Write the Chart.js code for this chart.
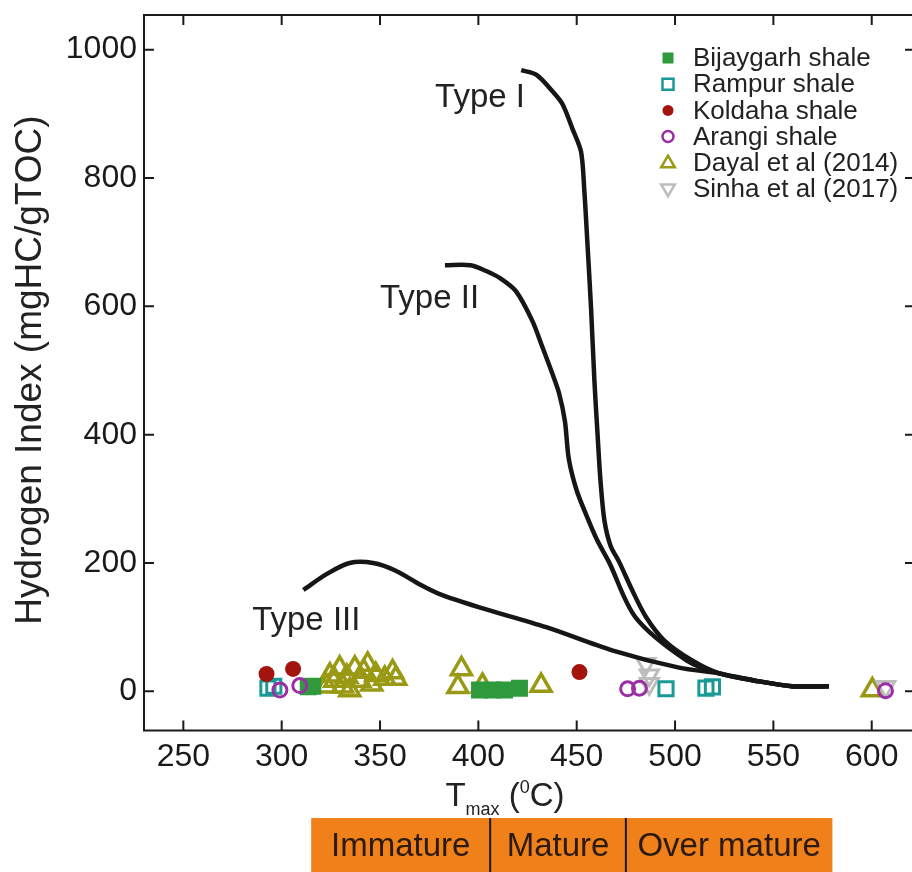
<!DOCTYPE html>
<html>
<head>
<meta charset="utf-8">
<script src="https://cdn.jsdelivr.net/npm/chart.js@4.4.1/dist/chart.umd.min.js"></script>
<style>
html, body { margin: 0; padding: 0; background: #fff; overflow: hidden; }
#wrap { position: relative; width: 930px; height: 872px; }
</style>
</head>
<body>
<div id="wrap"><canvas id="chart"></canvas></div>
<script>
const FONT = '"Liberation Sans", Arial, sans-serif';

// kerogen type curves (Tmax in degC, HI in mgHC/gTOC)
const typeIT = [421.8, 429.4, 437.7, 442.8, 447.8, 452.2, 453.9, 455.4, 457.3, 459, 460.5, 462.1, 464.1, 467.2, 471.7, 478.3, 485.4, 494.6, 508.7, 522.4, 540.2, 559.4, 578.2];
const typeIHI = [968, 961, 935, 915, 877, 841, 779, 701, 597, 484, 406, 328, 266, 227, 201, 157, 115, 79, 48, 28, 17, 8, 8];
const typeIIT = [383, 396, 404, 411, 419, 427.5, 432.5, 437.5, 441, 444, 446, 450, 455, 460.5, 466.5, 480, 506, 522.4, 540.2, 559.4, 578.2];
const typeIIHI = [664, 664, 655, 644, 624, 577, 537, 496, 465, 421, 362, 313, 274, 235, 201, 115, 48, 28, 17, 8, 8];
const typeIIIT = [311, 323, 334.5, 346.5, 358, 370, 380, 400.5, 434.5, 468, 502, 522.4, 540.2, 559.4, 578.2];
const typeIIIHI = [158, 183, 200, 200, 188, 167, 152, 131, 100, 64, 37, 28, 17, 8, 8];

// samples
const bijaygarhT = [313.5, 315.8, 400.6, 407.2, 413.3, 420.9];
const bijaygarhHI = [7, 8, 2, 2, 2, 5];
const rampurT = [293, 296, 495.4, 515.7, 519];
const rampurHI = [5, 8, 4, 5, 7];
const koldahaT = [292.3, 305.8, 451.4];
const koldahaHI = [27, 35, 30];
const arangiT = [299.1, 309.2, 475.9, 481.9, 607];
const arangiHI = [2, 9, 4, 5, 1];
const dayalT = [322.8, 324.5, 327, 329.5, 331, 333.1, 334.6, 337.2, 339.7, 341.7, 343.7, 345.8, 347.8, 352.4, 356.4, 358, 389.6, 391.4, 402.1, 431.9, 600.3];
const dayalHI = [8, 25, 17, 36, 8, 23, 2, 36, 17, 31, 42, 11, 26, 20, 30, 20, 7, 35, 9, 9, 2];
const sinhaT = [485.2, 486.9, 486.9, 607.1];
const sinhaHI = [43, 25, 12, 7];

const xTicks = [250, 300, 350, 400, 450, 500, 550, 600];
const yTicks = [0, 200, 400, 600, 800, 1000];

const typeLabels = ['Type I', 'Type II', 'Type III'];
const typeLabelT = [378, 350, 285];
const typeLabelHI = [925, 611, 110];

const zoneNames = ['Immature', 'Mature', 'Over mature'];
const zoneEdges = [315, 406, 475, 580];

function pts(xs, ys) {
    return xs.map((v, i) => ({ x: v, y: ys[i] }));
}

function curve(label, xs, ys) {
    return {
        label: label, data: pts(xs, ys), showLine: true,
        borderColor: '#161616', borderWidth: 4.5, pointRadius: 0,
        tension: 0.3, order: 0
    };
}

const samples = [
    { label: 'Bijaygarh shale', data: pts(bijaygarhT, bijaygarhHI), pointStyle: 'rect', pointRadius: 12, pointBorderWidth: 0,
      backgroundColor: '#2f9a3c', borderColor: '#2f9a3c', order: 3 },
    { label: 'Rampur shale', data: pts(rampurT, rampurHI), pointStyle: 'rect', pointRadius: 10, pointBorderWidth: 3,
      backgroundColor: 'rgba(0,0,0,0)', borderColor: '#1a9a96', order: 4 },
    { label: 'Koldaha shale', data: pts(koldahaT, koldahaHI), pointStyle: 'circle', pointRadius: 8, pointBorderWidth: 0,
      backgroundColor: '#a3140f', borderColor: '#a3140f', order: 1 },
    { label: 'Arangi shale', data: pts(arangiT, arangiHI), pointStyle: 'circle', pointRadius: 7, pointBorderWidth: 3,
      backgroundColor: 'rgba(0,0,0,0)', borderColor: '#9b2fa3', order: 2 },
    { label: 'Dayal et al (2014)', data: pts(dayalT, dayalHI), pointStyle: 'triangle', pointRadius: 11.5, pointBorderWidth: 3.5,
      backgroundColor: 'rgba(0,0,0,0)', borderColor: '#999914', order: 6 },
    { label: 'Sinha et al (2017)', data: pts(sinhaT, sinhaHI), pointStyle: 'triangle', pointRotation: 180, pointRadius: 10.5, pointBorderWidth: 3,
      backgroundColor: 'rgba(0,0,0,0)', borderColor: '#bdbdbd', order: 5 }
];

function marker(ctx, ds, x, y, s) {
    ctx.save();
    ctx.fillStyle = ds.pointBorderWidth ? 'rgba(0,0,0,0)' : ds.backgroundColor;
    ctx.strokeStyle = ds.borderColor;
    ctx.lineWidth = 2.5;
    ctx.beginPath();
    if (ds.pointStyle === 'rect') {
        ctx.rect(x - s, y - s, 2 * s, 2 * s);
    } else if (ds.pointStyle === 'circle') {
        ctx.arc(x, y, s, 0, Math.PI * 2);
    } else {
        const d = ds.pointRotation ? -1 : 1;
        ctx.moveTo(x, y - d * s * 1.1);
        ctx.lineTo(x + s * 1.05, y + d * s * 0.7);
        ctx.lineTo(x - s * 1.05, y + d * s * 0.7);
        ctx.closePath();
    }
    ctx.fill();
    if (ds.pointBorderWidth) ctx.stroke();
    ctx.restore();
}

const decor = {
    id: 'decor',
    afterDraw(chart) {
        const { ctx, chartArea: a, scales: { x, y } } = chart;
        ctx.save();

        // frame with inward ticks
        ctx.strokeStyle = '#1a1a1a';
        ctx.lineWidth = 2;
        ctx.strokeRect(a.left, a.top, a.right - a.left, a.bottom - a.top);
        ctx.beginPath();
        xTicks.forEach(v => {
            const px = x.getPixelForValue(v);
            ctx.moveTo(px, a.bottom); ctx.lineTo(px, a.bottom - 10);
            ctx.moveTo(px, a.top); ctx.lineTo(px, a.top + 10);
        });
        yTicks.forEach(v => {
            const py = y.getPixelForValue(v);
            ctx.moveTo(a.left, py); ctx.lineTo(a.left + 10, py);
            ctx.moveTo(a.right, py); ctx.lineTo(a.right - 10, py);
        });
        ctx.stroke();

        // type labels
        ctx.fillStyle = '#222';
        ctx.font = '33px ' + FONT;
        ctx.textAlign = 'left';
        ctx.textBaseline = 'middle';
        typeLabels.forEach((t, i) => {
            ctx.fillText(t, x.getPixelForValue(typeLabelT[i]), y.getPixelForValue(typeLabelHI[i]));
        });

        // legend
        ctx.font = '26px ' + FONT;
        samples.forEach((ds, i) => {
            const ly = 58 + i * 26.2;
            const s = ds.pointStyle === 'triangle' ? 6.5 : 5.5;
            marker(ctx, ds, 668, ly, s);
            ctx.fillStyle = '#222';
            ctx.fillText(ds.label, 693, ly + 1);
        });

        // y axis title
        ctx.save();
        ctx.translate(31, 370);
        ctx.rotate(-Math.PI / 2);
        ctx.textAlign = 'center';
        ctx.font = '37px ' + FONT;
        ctx.fillText('Hydrogen Index (mgHC/gTOC)', 0, 0);
        ctx.restore();

        // x axis title: T_max (^0C)
        const parts = [['T', 33, 0], ['max', 18, 9], [' (', 33, 0], ['0', 18, -13], ['C)', 33, 0]];
        let w = 0;
        parts.forEach(p => { ctx.font = p[1] + 'px ' + FONT; w += ctx.measureText(p[0]).width; });
        let cx = 505 - w / 2;
        ctx.textBaseline = 'alphabetic';
        ctx.textAlign = 'left';
        parts.forEach(p => {
            ctx.font = p[1] + 'px ' + FONT;
            ctx.fillText(p[0], cx, 806 + p[2]);
            cx += ctx.measureText(p[0]).width;
        });

        // maturity bar
        const top = 818;
        const ex = zoneEdges.map(v => x.getPixelForValue(v));
        ctx.fillStyle = '#f08019';
        ctx.fillRect(ex[0], top, ex[3] - ex[0], chart.height - top);
        ctx.beginPath();
        ctx.strokeStyle = '#1a1a1a';
        ctx.lineWidth = 2;
        [ex[1], ex[2]].forEach(px => { ctx.moveTo(px, top); ctx.lineTo(px, chart.height); });
        ctx.stroke();
        ctx.fillStyle = '#2a1a10';
        ctx.font = '33px ' + FONT;
        ctx.textAlign = 'center';
        ctx.textBaseline = 'middle';
        zoneNames.forEach((n, i) => ctx.fillText(n, (ex[i] + ex[i + 1]) / 2, 847));

        ctx.restore();
    }
};

new Chart(document.getElementById('chart'), {
    type: 'scatter',
    data: {
        datasets: [
            curve('Type I', typeIT, typeIHI),
            curve('Type II', typeIIT, typeIIHI),
            curve('Type III', typeIIIT, typeIIIHI)
        ].concat(samples)
    },
    options: {
        responsive: true,
        maintainAspectRatio: false,
        animation: false,
        layout: { padding: { top: 13, right: 13, left: 0, bottom: 0 } },
        plugins: { legend: { display: false }, tooltip: { enabled: false } },
        scales: {
            x: {
                type: 'linear', min: 230, max: 622,
                afterBuildTicks: s => { s.ticks = xTicks.map(v => ({ value: v })); },
                afterFit: s => { s.height = 141.5; s.paddingLeft = 0; s.paddingRight = 0; },
                grid: { display: false, drawTicks: false },
                border: { display: false },
                ticks: { font: { size: 32, family: FONT }, color: '#1a1a1a', padding: 7, maxRotation: 0,
                         callback: v => String(v) }
            },
            y: {
                type: 'linear', min: -61, max: 1054,
                afterBuildTicks: s => { s.ticks = yTicks.map(v => ({ value: v })); },
                afterFit: s => { s.width = 144; s.paddingTop = 0; s.paddingBottom = 0; },
                grid: { display: false, drawTicks: false },
                border: { display: false },
                ticks: { font: { size: 32, family: FONT }, color: '#1a1a1a', padding: 7,
                         callback: v => String(v) }
            }
        }
    },
    plugins: [decor]
});
</script>
</body>
</html>
